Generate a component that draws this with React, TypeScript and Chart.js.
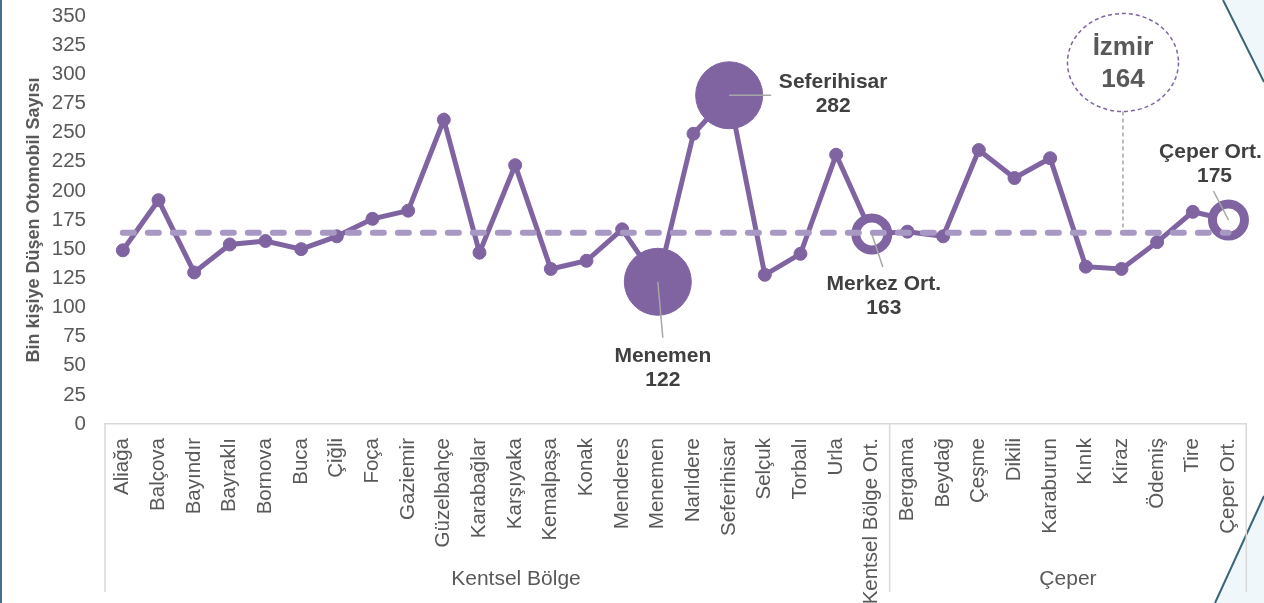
import React, { useEffect, useRef } from "react";
import { Chart, registerables } from "chart.js";

Chart.register(...registerables);

const categories: string[] = [
  "Aliağa", "Balçova", "Bayındır", "Bayraklı", "Bornova", "Buca", "Çiğli", "Foça",
  "Gaziemir", "Güzelbahçe", "Karabağlar", "Karşıyaka", "Kemalpaşa", "Konak", "Menderes",
  "Menemen", "Narlıdere", "Seferihisar", "Selçuk", "Torbalı", "Urla", "Kentsel Bölge Ort.",
  "Bergama", "Beydağ", "Çeşme", "Dikili", "Karaburun", "Kınık", "Kiraz", "Ödemiş", "Tire", "Çeper Ort.",
];

const values: number[] = [
  149, 192, 130, 154, 157, 150, 161, 176, 183, 261, 147, 222, 133, 140, 167,
  122, 249, 282, 128, 146, 231, 163,
  165, 161, 235, 211, 228, 135, 133, 156, 182, 175,
];

const izmirAverage = 164;
const groupLabels: string[] = ["Kentsel Bölge", "Çeper"];
const groupSizes: number[] = [22, 10];
const extremeNames: string[] = ["Menemen", "Seferihisar"];
const averageNames: string[] = ["Kentsel Bölge Ort.", "Çeper Ort."];
const yTitle = "Bin kişiye Düşen Otomobil Sayısı";

const PURPLE = "#8064a2";
const LIGHT_PURPLE = "#a898c4";
const FONT = "'Liberation Sans', Arial, sans-serif";

const decorPlugin = {
  id: "decor",
  beforeDraw(chart: any) {
    const ctx = chart.ctx;
    const W = chart.width;
    const H = chart.height;
    ctx.save();
    ctx.fillStyle = "#46708f";
    ctx.fillRect(0, 0, 2, H);
    ctx.fillStyle = "#f0f7fa";
    ctx.beginPath();
    ctx.moveTo(1223, 0);
    ctx.lineTo(W, 82);
    ctx.lineTo(W, 0);
    ctx.closePath();
    ctx.fill();
    ctx.beginPath();
    ctx.moveTo(1223, 0);
    ctx.lineTo(W, 82);
    ctx.strokeStyle = "#3a6478";
    ctx.lineWidth = 2;
    ctx.stroke();
    ctx.fillStyle = "#f0f7fa";
    ctx.beginPath();
    ctx.moveTo(1215, H);
    ctx.lineTo(W, 496);
    ctx.lineTo(W, H);
    ctx.closePath();
    ctx.fill();
    ctx.beginPath();
    ctx.moveTo(1215, H);
    ctx.lineTo(W, 496);
    ctx.stroke();
    ctx.restore();
  },
};

const annotationPlugin = {
  id: "annot",
  afterDraw(chart: any) {
    const ctx = chart.ctx;
    const xs = chart.scales.x;
    const ys = chart.scales.y;
    const area = chart.chartArea;
    ctx.save();

    ctx.strokeStyle = "#d9d9d9";
    ctx.lineWidth = 1.5;
    let start = 0;
    const step = xs.getPixelForValue(1) - xs.getPixelForValue(0);
    const bounds: number[] = [area.left];
    groupSizes.forEach((n) => {
      start += n;
      bounds.push(xs.getPixelForValue(start - 1) + step / 2);
    });
    bounds.forEach((x) => {
      ctx.beginPath();
      ctx.moveTo(x, area.bottom);
      ctx.lineTo(x, 592);
      ctx.stroke();
    });
    ctx.fillStyle = "#595959";
    ctx.font = `21px ${FONT}`;
    ctx.textAlign = "center";
    ctx.textBaseline = "middle";
    ctx.fillText(groupLabels[0], 516, 579);
    ctx.fillText(groupLabels[1], (bounds[1] + bounds[2]) / 2, 579);

    ctx.save();
    ctx.translate(34, 220);
    ctx.rotate(-Math.PI / 2);
    ctx.font = `bold 18px ${FONT}`;
    ctx.fillText(yTitle, 0, 0);
    ctx.restore();

    const pt = (name: string) => {
      const i = categories.indexOf(name);
      return { x: xs.getPixelForValue(i), y: ys.getPixelForValue(values[i]), v: values[i] };
    };
    const leader = (x1: number, y1: number, x2: number, y2: number) => {
      ctx.strokeStyle = "#a6a6a6";
      ctx.lineWidth = 1.5;
      ctx.setLineDash([]);
      ctx.beginPath();
      ctx.moveTo(x1, y1);
      ctx.lineTo(x2, y2);
      ctx.stroke();
    };
    const label = (t1: string, t2: string, x: number, y: number, x2?: number) => {
      ctx.fillStyle = "#404040";
      ctx.font = `bold 21px ${FONT}`;
      ctx.textAlign = "center";
      ctx.textBaseline = "middle";
      ctx.fillText(t1, x, y);
      ctx.fillText(t2, x2 ?? x, y + 24);
    };

    const sef = pt("Seferihisar");
    leader(sef.x, sef.y, sef.x + 42, sef.y);
    label("Seferihisar", String(sef.v), sef.x + 104, sef.y - 13);

    const men = pt("Menemen");
    leader(men.x, men.y, men.x + 5, men.y + 56);
    label("Menemen", String(men.v), men.x + 5, men.y + 74);

    const ker = pt("Kentsel Bölge Ort.");
    leader(ker.x, ker.y, ker.x + 11, ker.y + 33);
    label("Merkez Ort.", String(ker.v), ker.x + 12, ker.y + 50);

    const cep = pt("Çeper Ort.");
    leader(cep.x - 15, cep.y - 29, cep.x, cep.y);
    label("Çeper Ort.", String(cep.v), cep.x - 18, cep.y - 68, cep.x - 14);

    const ix = xs.getPixelForValue(28) + 1.5;
    const iy = ys.getPixelForValue(izmirAverage);
    const cy = 62.5;
    const rx = 55.5;
    const ry = 49;
    ctx.setLineDash([4, 3]);
    ctx.strokeStyle = "#a6a6a6";
    ctx.lineWidth = 1.5;
    ctx.beginPath();
    ctx.moveTo(ix, cy + ry);
    ctx.lineTo(ix, iy);
    ctx.stroke();
    ctx.strokeStyle = PURPLE;
    ctx.beginPath();
    ctx.ellipse(ix, cy, rx, ry, 0, 0, Math.PI * 2);
    ctx.stroke();
    ctx.setLineDash([]);
    ctx.fillStyle = "#595959";
    ctx.font = `bold 26px ${FONT}`;
    ctx.textAlign = "center";
    ctx.textBaseline = "middle";
    ctx.fillText("İzmir", ix, 48);
    ctx.fillText(String(izmirAverage), ix, 80);

    ctx.restore();
  },
};

export default function App() {
  const ref = useRef<HTMLCanvasElement | null>(null);

  useEffect(() => {
    if (!ref.current) return;
    const radii = categories.map((c) =>
      extremeNames.includes(c) ? 33.5 : averageNames.includes(c) ? 16 : 6.5
    );
    const borderWidths = categories.map((c) => (averageNames.includes(c) ? 9 : 1));
    const bgs = categories.map((c) => (averageNames.includes(c) ? "#ffffff" : PURPLE));

    const chart = new Chart(ref.current, {
      type: "line",
      data: {
        labels: categories,
        datasets: [
          {
            label: "İzmir",
            data: categories.map(() => izmirAverage),
            borderColor: LIGHT_PURPLE,
            borderWidth: 6,
            borderDash: [11, 14],
            borderCapStyle: "round",
            pointRadius: 0,
            fill: false,
            order: 0,
            clip: false,
          } as any,
          {
            label: "Otomobil",
            data: values,
            borderColor: PURPLE,
            borderWidth: 5,
            pointRadius: radii,
            pointBorderWidth: borderWidths,
            pointBackgroundColor: bgs,
            pointBorderColor: PURPLE,
            tension: 0,
            fill: false,
            order: 1,
            clip: false,
          } as any,
        ],
      },
      options: {
        animation: false,
        responsive: false,
        devicePixelRatio: 1,
        events: [],
        layout: { autoPadding: false, padding: { left: 0, right: 17.7, top: 16, bottom: 0 } },
        plugins: { legend: { display: false }, tooltip: { enabled: false }, title: { display: false } },
        scales: {
          x: {
            type: "category",
            offset: true,
            grid: { display: false, drawTicks: false },
            border: { display: true, color: "#d9d9d9", width: 1.5 },
            ticks: {
              autoSkip: false,
              maxRotation: 90,
              minRotation: 90,
              padding: 14,
              color: "#595959",
              font: { family: FONT, size: 20.5 },
            },
            afterFit: (s: any) => {
              s.height = 179;
              s.paddingLeft = 0;
              s.paddingRight = 0;
            },
          },
          y: {
            min: 0,
            max: 350,
            grid: { display: false, drawTicks: false },
            border: { display: false },
            ticks: {
              stepSize: 25,
              padding: 19,
              color: "#595959",
              font: { family: FONT, size: 20.5 },
            },
            afterFit: (s: any) => {
              s.width = 105;
              s.paddingTop = 0;
              s.paddingBottom = 0;
            },
          },
        },
      } as any,
      plugins: [decorPlugin, annotationPlugin],
    });
    return () => chart.destroy();
  }, []);

  return (
    <div style={{ position: "absolute", left: 0, top: 0, width: 1264, height: 603 }}>
      <canvas ref={ref} width={1264} height={603} />
    </div>
  );
}
